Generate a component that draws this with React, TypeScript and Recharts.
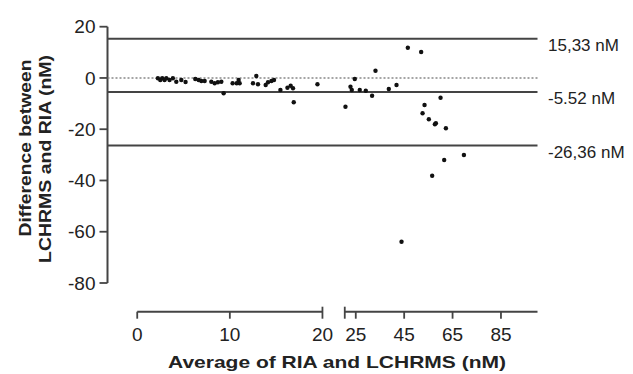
import React from 'react';
import { ScatterChart, Scatter, XAxis, YAxis, ReferenceLine } from 'recharts';

const FONT = '"Liberation Sans", Arial, Helvetica, sans-serif';
const INK = '#222';
const LINE = '#444';

// Left part of the broken x axis (0-20 nM)
const leftAvg = [2.23, 2.49, 2.7, 2.95, 3.14, 3.49, 3.85, 4.22, 4.76, 5.22, 6.27, 6.63, 6.92, 7.28, 8.0, 8.36, 8.71, 9.08, 9.33, 10.3, 10.74, 10.95, 11.06, 12.5, 12.86, 13.04, 13.87, 14.12, 14.49, 14.77, 15.46, 16.22, 16.57, 16.82, 16.9, 19.46];
const leftDiff = [-0.13, -0.8, -0.13, -0.8, -0.13, -0.8, -0.13, -1.46, -0.8, -1.58, -0.41, -0.8, -1.19, -1.19, -1.46, -2.08, -1.69, -1.46, -5.99, -2.08, -2.08, -0.8, -2.08, -2.08, 0.76, -2.47, -2.75, -1.69, -1.19, -0.8, -4.7, -3.8, -3.02, -4.03, -9.5, -2.47];

// Right part of the broken x axis (above 20 nM)
const rightAvg = [20.74, 22.81, 23.35, 24.59, 26.65, 29.14, 31.74, 33.15, 38.65, 41.84, 46.51, 52.02, 53.42, 52.6, 55.2, 57.69, 58.1, 62.24, 60.04, 69.69, 61.54, 56.57, 43.91];
const rightDiff = [-11.21, -3.41, -4.7, -0.41, -4.7, -4.97, -6.92, 2.83, -4.31, -2.75, 11.81, 10.13, -10.55, -13.79, -16.13, -18.08, -17.69, -19.64, -7.7, -30.06, -32.01, -38.14, -63.89];

const xTicksLeft = [0, 10, 20];
const xTicksRight = [25, 45, 65, 85];
const yTicks = [20, 0, -20, -40, -60, -80];

const leftDomain: [number, number] = [-3.21, 43.22];
const leftAxisSpan: [number, number] = [0, 20];
const rightDomain: [number, number] = [-77.6, 100.1];
const rightAxisSpan: [number, number] = [20.45, 100.1];
const yDomain: [number, number] = [-91.2, 20];
const yAxisSpan: [number, number] = [-80, 20];

const limitValues = [15.33, -5.52, -26.36];
const limitLabels = ['15,33 nM', '-5.52 nM', '-26,36 nM'];

const leftData = leftAvg.map((x, i) => ({ x, y: leftDiff[i] }));
const rightData = rightAvg.map((x, i) => ({ x, y: rightDiff[i] }));

const Dot = (p: any) => <circle cx={p.cx} cy={p.cy} r={2.2} fill="#111" />;

const XTick = (props: any) => {
  const { x, y, payload, breakAt, showLabel, shift = 0 } = props;
  const yy = y + shift;
  const isBreak = payload.value === breakAt;
  return (
    <g>
      <line x1={x} x2={x} y1={yy - (isBreak ? 5 : 0)} y2={yy + 7} stroke={LINE} strokeWidth={1.8} />
      {showLabel !== false && (
        <text x={x} y={yy + 29.3} textAnchor="middle" fontFamily={FONT} fontSize={19} fill={INK}>
          {payload.value}
        </text>
      )}
    </g>
  );
};

const XTitle = () => (
  <text x={168} y={368.3} fontFamily={FONT} fontWeight="bold" fontSize={17} fill={INK} textLength={338} lengthAdjust="spacingAndGlyphs">
    Average of RIA and LCHRMS (nM)
  </text>
);

const YTitle = () => (
  <g fontFamily={FONT} fontWeight="bold" fontSize={17} fill={INK}>
    <text x={24.5} y={148} transform="rotate(-90 24.5 148)" textAnchor="middle" dy="0.36em" textLength={177} lengthAdjust="spacingAndGlyphs">
      Difference between
    </text>
    <text x={44.5} y={159} transform="rotate(-90 44.5 159)" textAnchor="middle" dy="0.36em" textLength={208} lengthAdjust="spacingAndGlyphs">
      LCHRMS and RIA (nM)
    </text>
  </g>
);

const makeLimitLabel = (text: string) => (props: any) => {
  const vb = props.viewBox || {};
  return (
    <text x={(vb.x || 0) + (vb.width || 0) + 10.5} y={(vb.y || 0) + 12.3} fontFamily={FONT} fontSize={17} fill={INK}>
      {text}
    </text>
  );
};

export default function App() {
  return (
    <div style={{ position: 'absolute', left: 0, top: 0, background: '#fff' }}>
      <ScatterChart width={633} height={374} margin={{ top: 26.7, right: 95.5, bottom: 2.3, left: 47.5 }}>
        <XAxis
          xAxisId="L"
          type="number"
          dataKey="x"
          domain={leftDomain}
          allowDataOverflow
          ticks={xTicksLeft}
          interval={0}
          height={1}
          axisLine={false}
          tickLine={false}
          tickSize={0}
          tickMargin={0}
          tick={(p: any) => <XTick {...p} breakAt={20} />}
        />
        <XAxis
          xAxisId="R"
          type="number"
          dataKey="x"
          domain={rightDomain}
          allowDataOverflow
          ticks={[rightAxisSpan[0], ...xTicksRight]}
          interval={0}
          height={59}
          axisLine={false}
          tickLine={false}
          tickSize={0}
          tickMargin={0}
          tick={(p: any) => <XTick {...p} shift={-1} breakAt={rightAxisSpan[0]} showLabel={p.payload.value !== rightAxisSpan[0]} />}
          label={{ content: () => <XTitle /> }}
        />
        <YAxis
          type="number"
          dataKey="y"
          domain={yDomain}
          allowDataOverflow
          ticks={yTicks}
          interval={0}
          width={60}
          axisLine={false}
          tickLine={{ stroke: LINE, strokeWidth: 1.8 }}
          tickSize={8}
          tickMargin={4}
          tick={{ fontFamily: FONT, fontSize: 19, fill: INK }}
          label={{ content: () => <YTitle /> }}
        />
        <ReferenceLine
          xAxisId="L"
          ifOverflow="visible"
          segment={[{ x: leftDomain[0], y: yAxisSpan[0] }, { x: leftDomain[0], y: yAxisSpan[1] }]}
          stroke={LINE}
          strokeWidth={2}
        />
        <ReferenceLine
          xAxisId="L"
          ifOverflow="visible"
          segment={[{ x: leftAxisSpan[0], y: yDomain[0] }, { x: leftAxisSpan[1], y: yDomain[0] }]}
          stroke={LINE}
          strokeWidth={2}
        />
        <ReferenceLine
          xAxisId="R"
          ifOverflow="visible"
          segment={[{ x: rightAxisSpan[0], y: yDomain[0] }, { x: rightAxisSpan[1], y: yDomain[0] }]}
          stroke={LINE}
          strokeWidth={2}
        />
        <ReferenceLine xAxisId="L" y={0} stroke="#888" strokeWidth={1.5} strokeDasharray="2 2" ifOverflow="visible" />
        {limitValues.map((v, i) => (
          <ReferenceLine
            key={v}
            xAxisId="L"
            y={v}
            stroke={LINE}
            strokeWidth={2}
            ifOverflow="visible"
            label={makeLimitLabel(limitLabels[i])}
          />
        ))}
        <Scatter xAxisId="L" data={leftData} shape={Dot} isAnimationActive={false} />
        <Scatter xAxisId="R" data={rightData} shape={Dot} isAnimationActive={false} />
      </ScatterChart>
    </div>
  );
}
